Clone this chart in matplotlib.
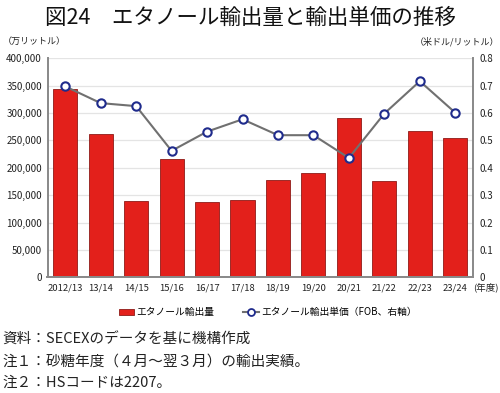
import matplotlib
matplotlib.use("Agg")
import matplotlib.pyplot as plt
from matplotlib.ticker import FuncFormatter
from matplotlib.lines import Line2D
from matplotlib.patches import Patch

plt.rcParams['font.family'] = ['Noto Sans CJK JP', 'DejaVu Sans']

categories = ["2012/13", "13/14", "14/15", "15/16", "16/17", "17/18",
              "18/19", "19/20", "20/21", "21/22", "22/23", "23/24"]
volume = [344000, 262000, 140000, 216000, 137500, 141000,
          178000, 190000, 290000, 176000, 266500, 254000]
price = [0.697, 0.636, 0.625, 0.462, 0.532, 0.577,
         0.519, 0.519, 0.436, 0.598, 0.716, 0.601]

title = "図24　エタノール輸出量と輸出単価の推移"
notes = ["資料：SECEXのデータを基に機構作成",
         "注１：砂糖年度（４月～翌３月）の輸出実績。",
         "注２：HSコードは2207。"]

fig = plt.figure(figsize=(5.0, 3.93), dpi=100)
ax = fig.add_axes([0.095, 0.294, 0.851, 0.558])
x = list(range(len(categories)))

ax.bar(x, volume, width=0.68, color="#E3201B", edgecolor="#8E1B17",
       linewidth=0.6, zorder=2)
ax.set_xlim(-0.5, len(categories) - 0.5)
ax.set_ylim(0, 400000)
ax.set_yticks(range(0, 400001, 50000))
ax.yaxis.set_major_formatter(FuncFormatter(lambda v, p: f"{int(v):,}"))
ax.set_xticks(x)
ax.set_xticklabels(categories)
ax.grid(axis="y", color="#E4E4E4", linewidth=0.9, zorder=0)
ax.set_axisbelow(True)
ax.tick_params(axis="both", length=0, labelsize=7, colors="#222222", pad=4)
ax.tick_params(axis="x", labelsize=6.8)
for s in ["top"]:
    ax.spines[s].set_visible(False)
for s in ["left", "right", "bottom"]:
    ax.spines[s].set_color("#8A8A8A")
    ax.spines[s].set_linewidth(1.3)

ax2 = ax.twinx()
ax2.plot(x, price, color="#707070", linewidth=1.5, marker="o", markersize=6,
         markerfacecolor="white", markeredgecolor="#1F2B8C", markeredgewidth=1.5,
         zorder=3)
ax2.set_ylim(0, 0.8)
ax2.set_yticks([i / 10 for i in range(9)])
ax2.yaxis.set_major_formatter(FuncFormatter(lambda v, p: "0" if v == 0 else f"{v:.1f}"))
ax2.tick_params(axis="y", length=0, labelsize=7, colors="#222222", pad=5)
ax2.spines["top"].set_visible(False)
for s in ["left", "right", "bottom"]:
    ax2.spines[s].set_color("#8A8A8A")
    ax2.spines[s].set_linewidth(1.3)

fig.text(0.5, 0.955, title, ha="center", va="center", fontsize=15.5, color="#111111")
fig.text(0.005, 0.895, "（万リットル）", ha="left", va="center", fontsize=6.5, color="#222222")
fig.text(0.999, 0.895, "（米ドル/リットル）", ha="right", va="center", fontsize=6.5, color="#222222")
fig.text(0.997, 0.27, "(年度)", ha="right", va="center", fontsize=6.8, color="#222222")

handles = [Patch(facecolor="#E3201B", edgecolor="#8E1B17", linewidth=0.6),
           Line2D([0], [0], color="#707070", linewidth=1.5, marker="o", markersize=5,
                  markerfacecolor="white", markeredgecolor="#1F2B8C", markeredgewidth=1.3)]
fig.legend(handles, ["エタノール輸出量", "エタノール輸出単価（FOB、右軸）"],
           loc="center", bbox_to_anchor=(0.535, 0.205), ncol=2, frameon=False,
           fontsize=7, handlelength=1.6, handletextpad=0.2, columnspacing=3.0)

for i, n in enumerate(notes):
    fig.text(0.005, 0.135 - i * 0.054, n, ha="left", va="center", fontsize=10.5, color="#222222")

fig.savefig("out.png", dpi=100)
